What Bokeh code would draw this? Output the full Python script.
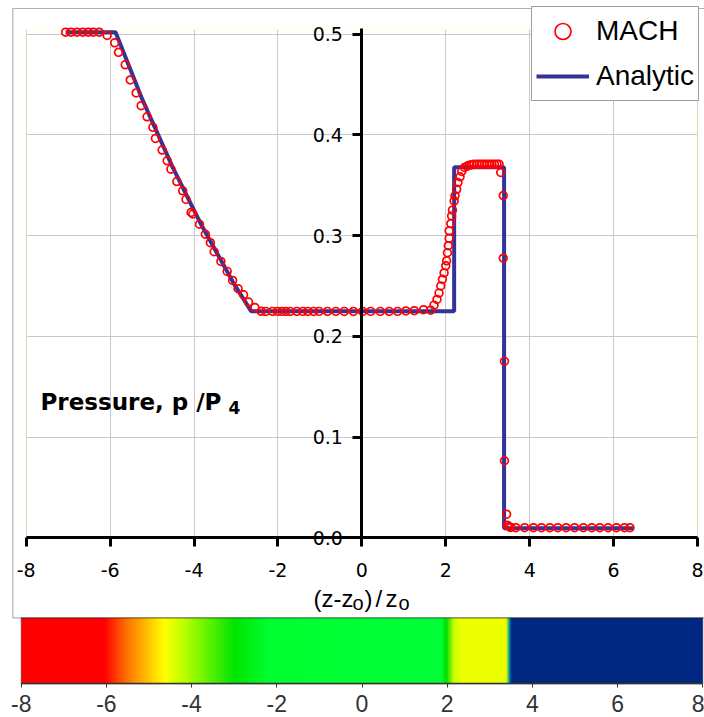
import numpy as np
from bokeh.plotting import figure
from bokeh.models import (Range1d, LinearAxis, FixedTicker, Grid, Legend, LegendItem,
                          Label, BoxAnnotation, PrintfTickFormatter)
from bokeh.embed import file_html
from bokeh.resources import INLINE

# ---------------- data ----------------
mach_x = [-7.06, -6.93, -6.79, -6.65, -6.52, -6.40, -6.26,
          -6.07, -5.89, -5.80, -5.64, -5.52, -5.38, -5.26, -5.12, -4.98, -4.92,
          -4.76, -4.64, -4.55, -4.41, -4.27, -4.19, -4.07, -4.03, -3.87, -3.73,
          -3.61, -3.52, -3.36, -3.21, -3.08, -2.95, -2.82, -2.70, -2.55, -2.40,
          -2.29, -2.13, -2.01, -1.91, -1.81, -1.71, -1.55, -1.41, -1.29, -1.15,
          -1.02, -0.82, -0.62, -0.42, -0.20, 0.02, 0.21, 0.44, 0.65, 0.85, 1.05,
          1.25, 1.47, 1.64,
          1.72, 1.79, 1.84, 1.88, 1.92, 1.96, 2.00, 2.02, 2.04, 2.06, 2.08, 2.08,
          2.12, 2.14, 2.16, 2.20, 2.22, 2.26, 2.29, 2.34, 2.38, 2.45, 2.51, 2.56,
          2.62, 2.67, 2.74, 2.80, 2.86, 2.92, 2.98, 3.04, 3.10, 3.16, 3.22, 3.27,
          3.31, 3.37, 3.37, 3.40, 3.40, 3.45,
          3.47, 3.51, 3.55, 3.67, 3.88, 4.09, 4.28, 4.48, 4.67, 4.87, 5.07, 5.28,
          5.48, 5.67, 5.87, 6.07, 6.26, 6.39]
mach_p = [0.502, 0.502, 0.502, 0.502, 0.502, 0.502, 0.502,
          0.4987, 0.4914, 0.482, 0.4696, 0.4546, 0.4417, 0.429, 0.418, 0.4075, 0.3965,
          0.385, 0.3743, 0.366, 0.3537, 0.3445, 0.336, 0.323, 0.3215, 0.3113, 0.3014,
          0.293, 0.284, 0.2744, 0.2645, 0.2555, 0.2473, 0.2413, 0.234, 0.2287, 0.2249,
          0.2248, 0.2248, 0.2248, 0.2248, 0.2248, 0.2248, 0.2248, 0.2248, 0.2248, 0.2248,
          0.2248, 0.2248, 0.2248, 0.2248, 0.2248, 0.2248, 0.2248, 0.2248, 0.2248, 0.2248, 0.2252,
          0.2255, 0.2265, 0.226,
          0.231, 0.2367, 0.243, 0.250, 0.2566, 0.263, 0.270, 0.275, 0.283, 0.290, 0.2974, 0.3047,
          0.312, 0.3196, 0.3253, 0.3345, 0.3395, 0.346, 0.3527, 0.3584, 0.3637, 0.3677, 0.369, 0.370,
          0.3705, 0.371, 0.371, 0.371, 0.371, 0.371, 0.371, 0.371, 0.371, 0.371, 0.371, 0.371,
          0.3627, 0.3398, 0.2776, 0.1753, 0.0765, 0.0234,
          0.0125, 0.011, 0.0103, 0.0100, 0.0100, 0.0100, 0.0100, 0.0100, 0.0100, 0.0100, 0.0100, 0.0100,
          0.0100, 0.0100, 0.0100, 0.0100, 0.0100, 0.0100]

analytic_x = [-7.06, -5.87, -5.22, -4.51, -3.83, -3.04, -2.64, 2.20, 2.20, 3.39, 3.39, 6.48]
analytic_p = [0.502, 0.502, 0.434, 0.368, 0.311, 0.2516, 0.225, 0.225, 0.368, 0.368, 0.0095, 0.0095]

x_ticks = [-8, -6, -4, -2, 0, 2, 4, 6, 8]
y_ticks = [0.0, 0.1, 0.2, 0.3, 0.4, 0.5]

# colour bar: stop positions and colours
cb_stop_x = [-8.0, -6.05, -5.5, -5.0, -4.65, -4.2, -3.0, -2.2, 1.85, 1.97, 2.15, 2.3, 3.38, 3.45, 3.5, 8.0]
cb_stop_rgb = [(255, 0, 0), (255, 0, 0), (255, 120, 0), (255, 200, 0), (255, 255, 0), (190, 255, 0),
               (0, 230, 0), (0, 255, 50), (0, 255, 55), (0, 220, 0), (200, 255, 0), (235, 255, 0),
               (235, 255, 0), (0, 160, 160), (0, 40, 130), (0, 40, 130)]

# ---------------- layout geometry (pixels from the top-left of the canvas) ----------------
W, H = 704, 717
px_left, px_right = 25.7, 697.0          # x = -8 and x = 8 (chart)
px_y0, px_y05 = 537.3, 33.7              # y = 0 and y = 0.5 (chart)
px_plot_top = 29.0
cb_left, cb_right = 20.7, 702.3          # x = -8 and x = 8 (colour bar)
cb_top, cb_bottom = 617.3, 683.3

sx = (px_right - px_left) / 16.0
sy = (px_y0 - px_y05) / 0.5
x0 = -8 - px_left / sx
x1 = 8 + (W - px_right) / sx
y0 = -(H - px_y0) / sy
y1 = 0.5 + px_y05 / sy
ytop = 0.5 + (px_y05 - px_plot_top) / sy

csx = (cb_right - cb_left) / 16.0
csy = (cb_bottom - cb_top)
cbx0 = -8 - cb_left / csx
cbx1 = 8 + (W - cb_right) / csx
cby0 = -(H - cb_bottom) / csy
cby1 = 1 + cb_top / csy

p = figure(width=W, height=H, x_range=Range1d(x0, x1), y_range=Range1d(y0, y1),
           output_backend="svg", toolbar_location=None, x_axis_type=None, y_axis_type=None,
           min_border=0, min_border_left=0, min_border_right=0, min_border_top=0, min_border_bottom=0)
p.background_fill_color = "white"
p.border_fill_color = "white"
p.outline_line_color = None
p.extra_x_ranges = {"cbx": Range1d(cbx0, cbx1)}
p.extra_y_ranges = {"cby": Range1d(cby0, cby1)}

xt = FixedTicker(ticks=x_ticks)
yt = FixedTicker(ticks=y_ticks)
try:
    gx = Grid(dimension=0, ticker=xt, bounds=(-8, 8), cross_bounds=(0, ytop),
              grid_line_color="#C8C8C8", grid_line_width=1)
    gy = Grid(dimension=1, ticker=yt, bounds=(0, ytop), cross_bounds=(-8, 8),
              grid_line_color="#C8C8C8", grid_line_width=1)
    p.add_layout(gx)
    p.add_layout(gy)
except AttributeError:
    p.segment(x0=x_ticks, y0=[0] * len(x_ticks), x1=x_ticks, y1=[ytop] * len(x_ticks),
              line_color="#C8C8C8", line_width=1)
    p.segment(x0=[-8] * len(y_ticks), y0=y_ticks, x1=[8] * len(y_ticks), y1=y_ticks,
              line_color="#C8C8C8", line_width=1)

# pale yellow plot-area border
p.add_layout(BoxAnnotation(left=-8, right=8, bottom=0, top=ytop, fill_alpha=0,
                           line_color="#FFFFC0", line_width=2, level="underlay"))

xaxis = LinearAxis(ticker=xt, formatter=PrintfTickFormatter(format="%d"))
xaxis.fixed_location = 0
xaxis.bounds = (-8, 8)
xaxis.axis_line_width = 3
xaxis.axis_line_color = "black"
xaxis.major_tick_line_width = 3
xaxis.major_tick_out = 9
xaxis.major_tick_in = 0
xaxis.minor_tick_line_color = None
xaxis.major_label_text_font = "DejaVu Sans"
xaxis.major_label_text_font_size = "19px"
xaxis.major_label_text_color = "black"
xaxis.major_label_standoff = 16
p.add_layout(xaxis, "below")

yaxis = LinearAxis(ticker=yt, formatter=PrintfTickFormatter(format="%.1f"))
yaxis.fixed_location = 0
yaxis.bounds = (0, ytop + 0.001)
yaxis.axis_line_width = 3
yaxis.axis_line_color = "black"
yaxis.major_tick_line_width = 3
yaxis.major_tick_out = 9
yaxis.major_tick_in = 0
yaxis.minor_tick_line_color = None
yaxis.major_label_text_font = "DejaVu Sans"
yaxis.major_label_text_font_size = "19px"
yaxis.major_label_text_color = "black"
yaxis.major_label_standoff = 10
p.add_layout(yaxis, "left")

line_r = p.line(analytic_x, analytic_p, line_color="#333399", line_width=4)
mach_r = p.scatter(mach_x, mach_p, marker="circle", size=7.8, fill_color=None,
                   line_color="#FF0000", line_width=1.7)

legend = Legend(items=[LegendItem(label="MACH", renderers=[mach_r]),
                       LegendItem(label="Analytic", renderers=[line_r])],
                location=(531, H - 101))
legend.label_text_font = "Liberation Sans"
legend.label_text_font_size = "28px"
legend.label_text_color = "black"
legend.glyph_width = 53
legend.glyph_height = 40
legend.label_height = 40
legend.label_standoff = 7
legend.spacing = 5
legend.padding = 4
legend.margin = 0
legend.border_line_color = "#404040"
legend.border_line_width = 1.5
legend.background_fill_color = "white"
legend.background_fill_alpha = 1
p.add_layout(legend, "center")

# chart border (screen units, y measured up from the canvas bottom)
p.add_layout(BoxAnnotation(left=12.3, right=720, bottom=H - 617.3, top=H - 8,
                           left_units="screen", right_units="screen",
                           bottom_units="screen", top_units="screen",
                           fill_alpha=0, line_color="black", line_width=1.2, level="overlay"))

# inner label
p.add_layout(Label(x=40, y=H - 401.7, x_units="screen", y_units="screen", text="Pressure, p /P",
                   text_font="DejaVu Sans", text_font_style="bold", text_font_size="23px",
                   text_baseline="alphabetic", text_color="black"))
p.add_layout(Label(x=228, y=H - 407, x_units="screen", y_units="screen", text="4",
                   text_font="DejaVu Sans", text_font_style="bold", text_font_size="17px",
                   text_baseline="alphabetic", text_color="black"))

# axis title (z-z_o)/z_o
title_parts = [("(z-z", 313, 597.5, "24px"), ("o", 352, 602, "20px"), (")", 364, 597.5, "24px"),
               ("/", 375, 597.5, "24px"), ("z", 385, 597.5, "24px"), ("o", 398, 602, "20px")]
for t, xx, yy, fs in title_parts:
    p.add_layout(Label(x=xx, y=H - yy, x_units="screen", y_units="screen", text=t,
                       text_font="Liberation Sans", text_font_size=fs,
                       text_baseline="alphabetic", text_color="black"))

# ---------------- colour bar (same canvas, its own ranges) ----------------
ncol = 1400
xs = np.linspace(-8, 8, ncol)
stops = np.array(cb_stop_rgb, dtype=float)
r = np.interp(xs, cb_stop_x, stops[:, 0]).astype(np.uint32)
g = np.interp(xs, cb_stop_x, stops[:, 1]).astype(np.uint32)
b = np.interp(xs, cb_stop_x, stops[:, 2]).astype(np.uint32)
img = (255 << 24) | (b << 16) | (g << 8) | r
img = img.reshape(1, ncol).astype(np.uint32)
p.image_rgba(image=[img], x=-8, y=0, dw=16, dh=1, x_range_name="cbx", y_range_name="cby")
p.add_layout(BoxAnnotation(left=-8, right=8, bottom=0, top=1, x_range_name="cbx", y_range_name="cby",
                           fill_alpha=0, line_color="#333333", line_width=1.5))

cbaxis = LinearAxis(ticker=FixedTicker(ticks=x_ticks), formatter=PrintfTickFormatter(format="%d"),
                    x_range_name="cbx", y_range_name="cby")
cbaxis.fixed_location = 0
cbaxis.bounds = (-8, 8)
cbaxis.axis_line_color = "#333333"
cbaxis.axis_line_width = 1.5
cbaxis.major_tick_line_color = "#333333"
cbaxis.major_tick_out = 4
cbaxis.major_tick_in = 0
cbaxis.minor_tick_line_color = None
cbaxis.major_label_text_font = "Liberation Sans Narrow, Liberation Sans"
cbaxis.major_label_text_font_size = "23px"
cbaxis.major_label_text_color = "#333333"
cbaxis.major_label_standoff = 7
p.add_layout(cbaxis, "below")

open("out.html", "w").write(file_html(p, INLINE))
